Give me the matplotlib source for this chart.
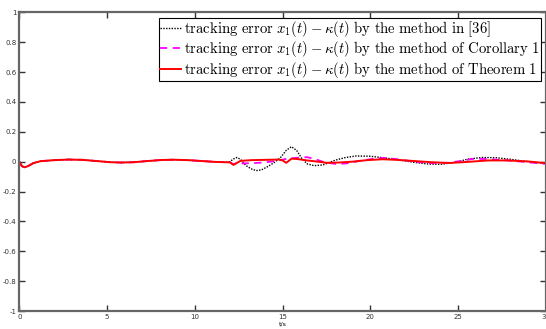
import matplotlib
matplotlib.use("Agg")
import matplotlib.pyplot as plt

plt.rcParams['mathtext.fontset'] = 'cm'

# shared early part (t <= 11.8)
t_base = [0, 0.15, 0.3, 0.5, 0.8, 1.2, 2, 2.8, 3.6, 4.4, 5.2, 5.8, 6.5, 7.3, 8.1, 8.8, 9.6, 10.4, 11.2, 11.8]
y_base = [0, -0.03, -0.038, -0.03, -0.01, 0.003, 0.01, 0.014, 0.012, 0.004, -0.004, -0.006, -0.004, 0.004,
          0.011, 0.013, 0.01, 0.004, -0.002, -0.004]

t_ref36 = [12.0, 12.2, 12.4, 12.6, 12.9, 13.2, 13.5, 13.8, 14.2, 14.6, 14.9, 15.2, 15.5, 15.8, 16.1, 16.4,
           16.8, 17.3, 18, 18.6, 19.2, 20, 20.8, 21.6, 22.5, 23.3, 24, 24.8, 25.6, 26.4, 27.2, 28, 29, 30]
y_ref36 = [0.0, 0.018, 0.028, 0.015, -0.025, -0.048, -0.06, -0.055, -0.03, 0.0, 0.03, 0.075, 0.1, 0.075,
           0.02, -0.015, -0.027, -0.022, 0.01, 0.028, 0.038, 0.036, 0.025, 0.012, -0.005, -0.016, -0.018,
           -0.005, 0.018, 0.028, 0.026, 0.015, 0.0, -0.012]

t_cor = [12.0, 12.2, 12.4, 12.7, 13.3, 14, 14.6, 15.2, 15.8, 16.4, 16.9, 17.4, 18, 18.6, 19.4, 20.2, 20.8,
         21.6, 22.5, 23.4, 24.4, 25.2, 25.8, 26.6, 27.6, 28.6, 29.3, 30]
y_cor = [-0.004, -0.018, -0.01, -0.012, -0.01, -0.005, 0.004, 0.018, 0.026, 0.03, 0.015, -0.005, -0.015,
         -0.012, 0.005, 0.02, 0.025, 0.015, 0.0, -0.01, -0.008, 0.005, 0.018, 0.018, 0.01, 0.0, -0.008, -0.015]

t_thm = [12.0, 12.2, 12.4, 12.6, 13.2, 14, 14.8, 15.0, 15.2, 15.35, 15.5, 15.8, 16.4, 17, 17.5, 18.2, 19,
         19.8, 20.7, 21.5, 22.5, 23.5, 24.5, 25.5, 26.7, 27.8, 29, 30]
y_thm = [-0.005, -0.022, -0.008, 0.005, 0.01, 0.012, 0.014, 0.008, -0.008, 0.005, 0.02, 0.018, 0.008, 0.0,
         -0.008, -0.006, 0.0, 0.01, 0.016, 0.012, 0.004, -0.004, -0.009, -0.002, 0.008, 0.008, 0.001, -0.01]

labels = [
    r"$\mathrm{tracking\ error\ }x_1(t)-\kappa(t)\mathrm{\ by\ the\ method\ in\ [36]}$",
    r"$\mathrm{tracking\ error\ }x_1(t)-\kappa(t)\mathrm{\ by\ the\ method\ of\ Corollary\ 1}$",
    r"$\mathrm{tracking\ error\ }x_1(t)-\kappa(t)\mathrm{\ by\ the\ method\ of\ Theorem\ 1}$",
]
x_ticks = [0, 5, 10, 15, 20, 25, 30]
y_ticks = [-1, -0.8, -0.6, -0.4, -0.2, 0, 0.2, 0.4, 0.6, 0.8, 1]
y_ticklabels = ['-1', '-0.8', '-0.6', '-0.4', '-0.2', '0', '0.2', '0.4', '0.6', '0.8', '1']

fig = plt.figure(figsize=(5.46, 3.29), dpi=100)
ax = fig.add_axes([0.0353, 0.0547, 0.9647, 0.908])

ax.plot(t_base + t_ref36, y_base + y_ref36, color='black', linestyle=(0, (1, 1)), linewidth=1.0, label=labels[0])
ax.plot(t_base + t_cor, y_base + y_cor, color='#ff00ff', linestyle=(0, (4, 3)), linewidth=1.3, label=labels[1])
ax.plot(t_base + t_thm, y_base + y_thm, color='#ff0000', linestyle='-', linewidth=1.4, label=labels[2])

ax.set_xlim(0, 30)
ax.set_ylim(-1, 1)
ax.set_xticks(x_ticks)
ax.set_yticks(y_ticks)
ax.set_yticklabels(y_ticklabels)
ax.tick_params(direction='in', length=4, width=1, labelsize=5, top=True, right=True, pad=2, colors='#333333')
for s in ax.spines.values():
    s.set_color('#666666')
    s.set_linewidth(1.6)
ax.set_xlabel('t/s', fontsize=4.5, labelpad=1)

leg = ax.legend(loc='upper right', bbox_to_anchor=(0.9905, 0.981), borderaxespad=0, fontsize=10.6,
                frameon=True, fancybox=False, edgecolor='black', framealpha=1, handlelength=1.4,
                handletextpad=0.2, borderpad=0.08, labelspacing=0.02)
leg.get_frame().set_linewidth(0.8)

fig.savefig('out.png', dpi=100)
